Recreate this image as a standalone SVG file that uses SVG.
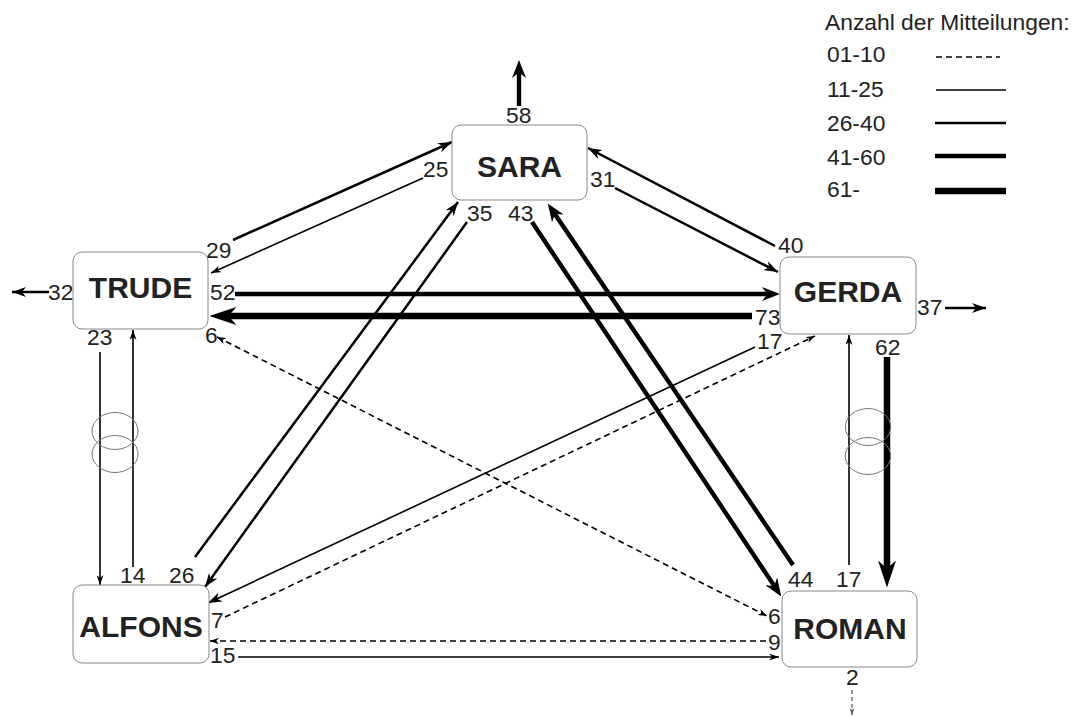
<svg xmlns="http://www.w3.org/2000/svg" width="1075" height="716" viewBox="0 0 1075 716">
<style>
.node rect{fill:#fff;stroke:#888;stroke-width:1}
.node text{font-family:"Liberation Sans",Arial,sans-serif;font-weight:bold;font-size:30px;fill:#222;text-anchor:middle}
.lbl{font-family:"Liberation Sans",Arial,sans-serif;font-size:22.8px;fill:#222}
.thin{stroke:#000;stroke-width:1.6;fill:none}
.med{stroke:#000;stroke-width:2.5;fill:none}
.thick{stroke:#000;stroke-width:4.4;fill:none}
.xthick{stroke:#000;stroke-width:6.5;fill:none}
.dash{stroke:#000;stroke-width:1.6;fill:none;stroke-dasharray:6 4}
.dash2{stroke:#555;stroke-width:1.2;fill:none;stroke-dasharray:4 3}
.ring{fill:none;stroke:#777;stroke-width:1}
</style>
<defs>
<marker id="aThin" viewBox="0 0 10 10" refX="10" refY="5" markerUnits="userSpaceOnUse" markerWidth="10" markerHeight="7" orient="auto" preserveAspectRatio="none"><path d="M0,0 L10,5 L0,10 L3,5 z" fill="#000"/></marker>
<marker id="aMed" viewBox="0 0 10 10" refX="10" refY="5" markerUnits="userSpaceOnUse" markerWidth="14" markerHeight="10" orient="auto" preserveAspectRatio="none"><path d="M0,0 L10,5 L0,10 L3,5 z" fill="#000"/></marker>
<marker id="aThick" viewBox="0 0 10 10" refX="5" refY="5" markerUnits="userSpaceOnUse" markerWidth="18" markerHeight="14" orient="auto" preserveAspectRatio="none"><path d="M0,0 L10,5 L0,10 L3,5 z" fill="#000"/></marker>
<marker id="aXThick" viewBox="0 0 10 10" refX="5" refY="5" markerUnits="userSpaceOnUse" markerWidth="27" markerHeight="18" orient="auto" preserveAspectRatio="none"><path d="M0,0 L10,5 L0,10 L3,5 z" fill="#000"/></marker>
<marker id="aDash" viewBox="0 0 10 10" refX="10" refY="5" markerUnits="userSpaceOnUse" markerWidth="9" markerHeight="6.5" orient="auto" preserveAspectRatio="none"><path d="M0,0 L10,5 L0,10 L3,5 z" fill="#000"/></marker>
<marker id="aDashS" viewBox="0 0 10 10" refX="10" refY="5" markerUnits="userSpaceOnUse" markerWidth="9" markerHeight="6.5" orient="auto-start-reverse" preserveAspectRatio="none"><path d="M0,0 L10,5 L0,10 L3,5 z" fill="#000"/></marker>
<marker id="aDash2" viewBox="0 0 10 10" refX="10" refY="5" markerUnits="userSpaceOnUse" markerWidth="7" markerHeight="5" orient="auto" preserveAspectRatio="none"><path d="M0,0 L10,5 L0,10 L3,5 z" fill="#555"/></marker>
</defs>

<g id="legend">
<text class="lbl" x="825" y="30">Anzahl der Mitteilungen:</text>
<text class="lbl" x="827" y="62">01-10</text>
<text class="lbl" x="827" y="97">11-25</text>
<text class="lbl" x="827" y="131">26-40</text>
<text class="lbl" x="827" y="165">41-60</text>
<text class="lbl" x="827" y="197">61-</text>
<line class="dash" x1="936" y1="57" x2="1000" y2="57" stroke-dasharray="6 3.7"/>
<line class="thin" x1="936" y1="90" x2="1006" y2="90"/>
<line class="med" x1="935" y1="123" x2="1006" y2="123"/>
<line class="thick" x1="935" y1="156" x2="1006" y2="156"/>
<line class="xthick" x1="935" y1="191" x2="1006" y2="191" stroke-width="6"/>
</g>

<g id="connectors">
<line class="thick" x1="519" y1="106" x2="519" y2="69" marker-end="url(#aThick)"/>
<line class="med" x1="49" y1="292" x2="12" y2="292" marker-end="url(#aMed)"/>
<line class="med" x1="945" y1="308" x2="986" y2="308" marker-end="url(#aMed)"/>
<line class="dash2" x1="852" y1="690" x2="852" y2="715" marker-end="url(#aDash2)"/>
<line class="med" x1="233" y1="240" x2="452" y2="142" marker-end="url(#aMed)"/>
<line class="thin" x1="423" y1="178" x2="211" y2="273" marker-end="url(#aThin)"/>
<line class="med" x1="615" y1="188" x2="778" y2="272" marker-end="url(#aMed)"/>
<line class="med" x1="775" y1="246" x2="588" y2="148" marker-end="url(#aMed)"/>
<line class="thick" x1="235" y1="294" x2="771" y2="294" marker-end="url(#aThick)"/>
<line class="xthick" x1="752" y1="316" x2="223" y2="316" marker-end="url(#aXThick)"/>
<line class="dash" x1="217" y1="337" x2="767" y2="616" marker-start="url(#aDashS)" marker-end="url(#aDash)"/>
<line class="thin" x1="100" y1="352" x2="100" y2="585" marker-end="url(#aThin)"/>
<line class="thin" x1="133" y1="567" x2="133" y2="330" marker-end="url(#aThin)"/>
<line class="med" x1="195" y1="557" x2="458" y2="202" marker-end="url(#aMed)"/>
<line class="med" x1="467" y1="222" x2="205" y2="587" marker-end="url(#aMed)"/>
<line class="thick" x1="532" y1="222" x2="776.3" y2="588.9" marker-end="url(#aThick)"/>
<line class="thick" x1="793" y1="565" x2="552.8" y2="211" marker-end="url(#aThick)"/>
<line class="thin" x1="849" y1="565" x2="849" y2="335" marker-end="url(#aThin)"/>
<line class="xthick" x1="887" y1="357" x2="887" y2="574" marker-end="url(#aXThick)"/>
<line class="dash" x1="225" y1="617" x2="815" y2="336" marker-end="url(#aDash)"/>
<line class="thin" x1="755" y1="347" x2="208" y2="603" marker-end="url(#aMed)"/>
<line class="dash" x1="766" y1="641" x2="210" y2="641" marker-end="url(#aDash)"/>
<line class="thin" x1="238" y1="657" x2="779" y2="657" marker-end="url(#aThin)"/>
<ellipse class="ring" cx="115" cy="431" rx="23" ry="18.5"/>
<ellipse class="ring" cx="115" cy="454" rx="23" ry="18.5"/>
<ellipse class="ring" cx="868" cy="427" rx="22.7" ry="18.5"/>
<ellipse class="ring" cx="868" cy="456" rx="22.7" ry="18.5"/>
</g>

<g id="labels">
<text class="lbl" x="506" y="123">58</text>
<text class="lbl" x="423" y="177">25</text>
<text class="lbl" x="590" y="187">31</text>
<text class="lbl" x="778" y="253">40</text>
<text class="lbl" x="206" y="258">29</text>
<text class="lbl" x="210" y="300">52</text>
<text class="lbl" x="48" y="300">32</text>
<text class="lbl" x="205" y="343">6</text>
<text class="lbl" x="87" y="345">23</text>
<text class="lbl" x="755" y="325">73</text>
<text class="lbl" x="757" y="349">17</text>
<text class="lbl" x="875" y="355">62</text>
<text class="lbl" x="917" y="315">37</text>
<text class="lbl" x="467" y="221">35</text>
<text class="lbl" x="508" y="221">43</text>
<text class="lbl" x="169" y="583">26</text>
<text class="lbl" x="120" y="583">14</text>
<text class="lbl" x="788" y="587">44</text>
<text class="lbl" x="836" y="587">17</text>
<text class="lbl" x="211" y="628">7</text>
<text class="lbl" x="768" y="624">6</text>
<text class="lbl" x="768" y="650">9</text>
<text class="lbl" x="210" y="663">15</text>
<text class="lbl" x="846" y="685">2</text>
</g>

<g id="SARA" class="node"><rect x="452" y="125" width="135" height="75" rx="9"/><text x="519.5" y="177">SARA</text></g>
<g id="TRUDE" class="node"><rect x="73" y="252" width="135" height="77" rx="9"/><text x="140.5" y="298">TRUDE</text></g>
<g id="GERDA" class="node"><rect x="780" y="257" width="136" height="77" rx="9"/><text x="848" y="302">GERDA</text></g>
<g id="ALFONS" class="node"><rect x="73" y="585" width="136" height="78" rx="9"/><text x="141" y="637">ALFONS</text></g>
<g id="ROMAN" class="node"><rect x="782" y="591" width="135" height="76" rx="9"/><text x="850" y="639">ROMAN</text></g>
</svg>
